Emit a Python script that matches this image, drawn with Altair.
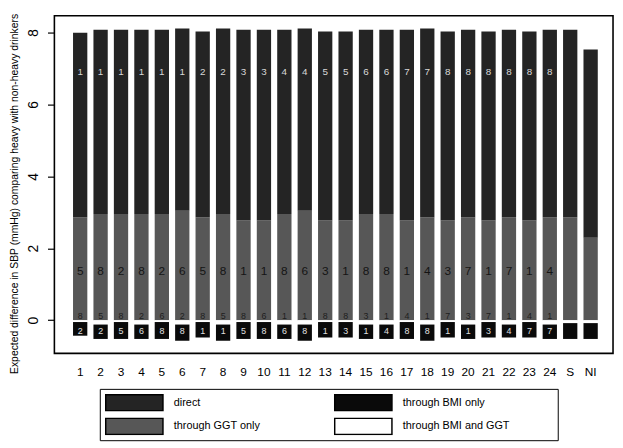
import altair as alt
import pandas as pd

categories = [str(i) for i in range(1, 25)] + ["S", "NI"]

# segment sizes (mmHg)
direct = [5.13, 5.12, 5.12, 5.12, 5.12, 5.07, 5.16, 5.16, 5.30, 5.30, 5.12, 5.07, 5.25,
          5.25, 5.12, 5.12, 5.30, 5.25, 5.25, 5.21, 5.25, 5.21, 5.25, 5.21, 5.21, 5.23]
ggt_only = [2.86, 2.95, 2.95, 2.95, 2.95, 3.04, 2.86, 2.95, 2.77, 2.77, 2.95, 3.04, 2.77,
            2.77, 2.95, 2.95, 2.77, 2.86, 2.77, 2.86, 2.77, 2.86, 2.77, 2.86, 2.86, 2.29]
bmi_and_ggt = [-0.05, -0.12, -0.05, -0.12, -0.05, -0.12, -0.05, -0.12, -0.05, -0.05, -0.12, -0.12, -0.05,
               -0.05, -0.12, -0.12, -0.05, -0.12, -0.05, -0.12, -0.05, -0.12, -0.05, -0.12, -0.08, -0.08]
bmi_only = [-0.38, -0.40, -0.47, -0.40, -0.47, -0.45, -0.43, -0.45, -0.47, -0.47, -0.40, -0.45, -0.43,
            -0.43, -0.40, -0.40, -0.47, -0.45, -0.43, -0.40, -0.43, -0.36, -0.43, -0.40, -0.44, -0.44]

# rank labels printed in the segments
direct_lab = ["1", "1", "1", "1", "1", "1", "2", "2", "3", "3", "4", "4", "5",
              "5", "6", "6", "7", "7", "8", "8", "8", "8", "8", "8", "", ""]
ggt_lab = ["5", "8", "2", "8", "2", "6", "5", "8", "1", "1", "8", "6", "3",
           "1", "8", "8", "1", "4", "3", "7", "1", "7", "1", "4", "", ""]
bmiggt_lab = ["8", "5", "8", "2", "6", "2", "8", "5", "8", "6", "1", "1", "8",
              "8", "3", "1", "4", "1", "7", "3", "7", "1", "4", "1", "", ""]
bmi_lab = ["2", "2", "5", "6", "8", "8", "1", "1", "5", "8", "6", "8", "1",
           "3", "1", "4", "8", "8", "1", "1", "3", "4", "7", "7", "", ""]

label_y = {"direct": 6.9, "through GGT only": 1.38, "through BMI and GGT": 0.12, "through BMI only": -0.3}

series_order = ["direct", "through GGT only", "through BMI only", "through BMI and GGT"]
series_colors = ["#242424", "#575757", "#0a0a0a", "#ffffff"]

rows = []
for i, c in enumerate(categories):
    rows.append(dict(cat=c, series="through GGT only", y=0.0, y2=ggt_only[i]))
    rows.append(dict(cat=c, series="direct", y=ggt_only[i], y2=ggt_only[i] + direct[i]))
    rows.append(dict(cat=c, series="through BMI and GGT", y=0.0, y2=bmi_and_ggt[i]))
    rows.append(dict(cat=c, series="through BMI only", y=bmi_and_ggt[i], y2=bmi_and_ggt[i] + bmi_only[i]))
bars_df = pd.DataFrame(rows)

lab_rows = []
for i, c in enumerate(categories):
    lab_rows.append(dict(cat=c, series="direct", lab=direct_lab[i], ly=label_y["direct"]))
    lab_rows.append(dict(cat=c, series="through GGT only", lab=ggt_lab[i], ly=label_y["through GGT only"]))
    lab_rows.append(dict(cat=c, series="through BMI and GGT", lab=bmiggt_lab[i], ly=label_y["through BMI and GGT"]))
    lab_rows.append(dict(cat=c, series="through BMI only", lab=bmi_lab[i], ly=label_y["through BMI only"]))
lab_df = pd.DataFrame(lab_rows)

FONT = "Liberation Sans"

x_enc = alt.X("cat:N", sort=categories,
              scale=alt.Scale(paddingInner=0.3, paddingOuter=0.83, align=0.55),
              axis=alt.Axis(title=None, labelAngle=0, ticks=False, tickSize=0, domain=False,
                            labelFontSize=12, labelPadding=13, labelColor="black", labelFont=FONT))
y_scale = alt.Scale(domain=[-0.92, 8.46], nice=False, zero=False)

pad_spaces = "\u00a0" * 14 + "\u200b"

bars = alt.Chart(bars_df).mark_bar(strokeWidth=0).encode(
    x=x_enc,
    y=alt.Y("y:Q", scale=y_scale,
            axis=alt.Axis(values=[0, 2, 4, 6, 8], grid=False, domain=False, tickColor="black",
                          tickSize=7, tickWidth=1.2, labelAngle=270, labelFontSize=14,
                          labelPadding=7, labelColor="black", labelFont=FONT,
                          title="Expected difference in SBP (mmHg) comparing heavy with non-heavy drinkers",
                          titleFontSize=10.5, titleFontWeight="normal", titleColor="black",
                          titleFont=FONT, titlePadding=7, titleY=180)),
    y2="y2:Q",
    color=alt.Color("series:N", scale=alt.Scale(domain=series_order, range=series_colors),
                    legend=alt.Legend(title=None, orient="none", legendX=46, legendY=378,
                                      columns=2, columnPadding=74, rowPadding=6, padding=5,
                                      strokeColor="black", fillColor="white",
                                      symbolType="M-1,-0.28H1V0.28H-1Z", symbolSize=3364,
                                      clipHeight=18, symbolStrokeWidth=1.5, symbolStrokeColor="black",
                                      labelFontSize=11, labelFont=FONT, labelColor="black",
                                      labelOffset=10,
                                      labelExpr="datum.label == 'through BMI and GGT' ? datum.label + '" + pad_spaces + "' : datum.label")),
)

def text_layer(series, color, size):
    return alt.Chart(lab_df).transform_filter(alt.datum.series == series).mark_text(
        color=color, fontSize=size, font=FONT, baseline="middle"
    ).encode(x=alt.X("cat:N", sort=categories), y=alt.Y("ly:Q", scale=y_scale), text="lab:N")

chart = alt.layer(
    bars,
    text_layer("direct", "#d8d8d8", 10),
    text_layer("through GGT only", "#141414", 12),
    text_layer("through BMI and GGT", "#1e1e1e", 9),
    text_layer("through BMI only", "#e0e0e0", 9),
).properties(
    width=566, height=342,
    autosize=alt.AutoSizeParams(type="none"),
    padding={"left": 47, "top": 5, "right": 2, "bottom": 92},
).configure_view(stroke="black", strokeWidth=1.6)

chart.save("out.html", embed_options={"renderer": "svg", "actions": False})
